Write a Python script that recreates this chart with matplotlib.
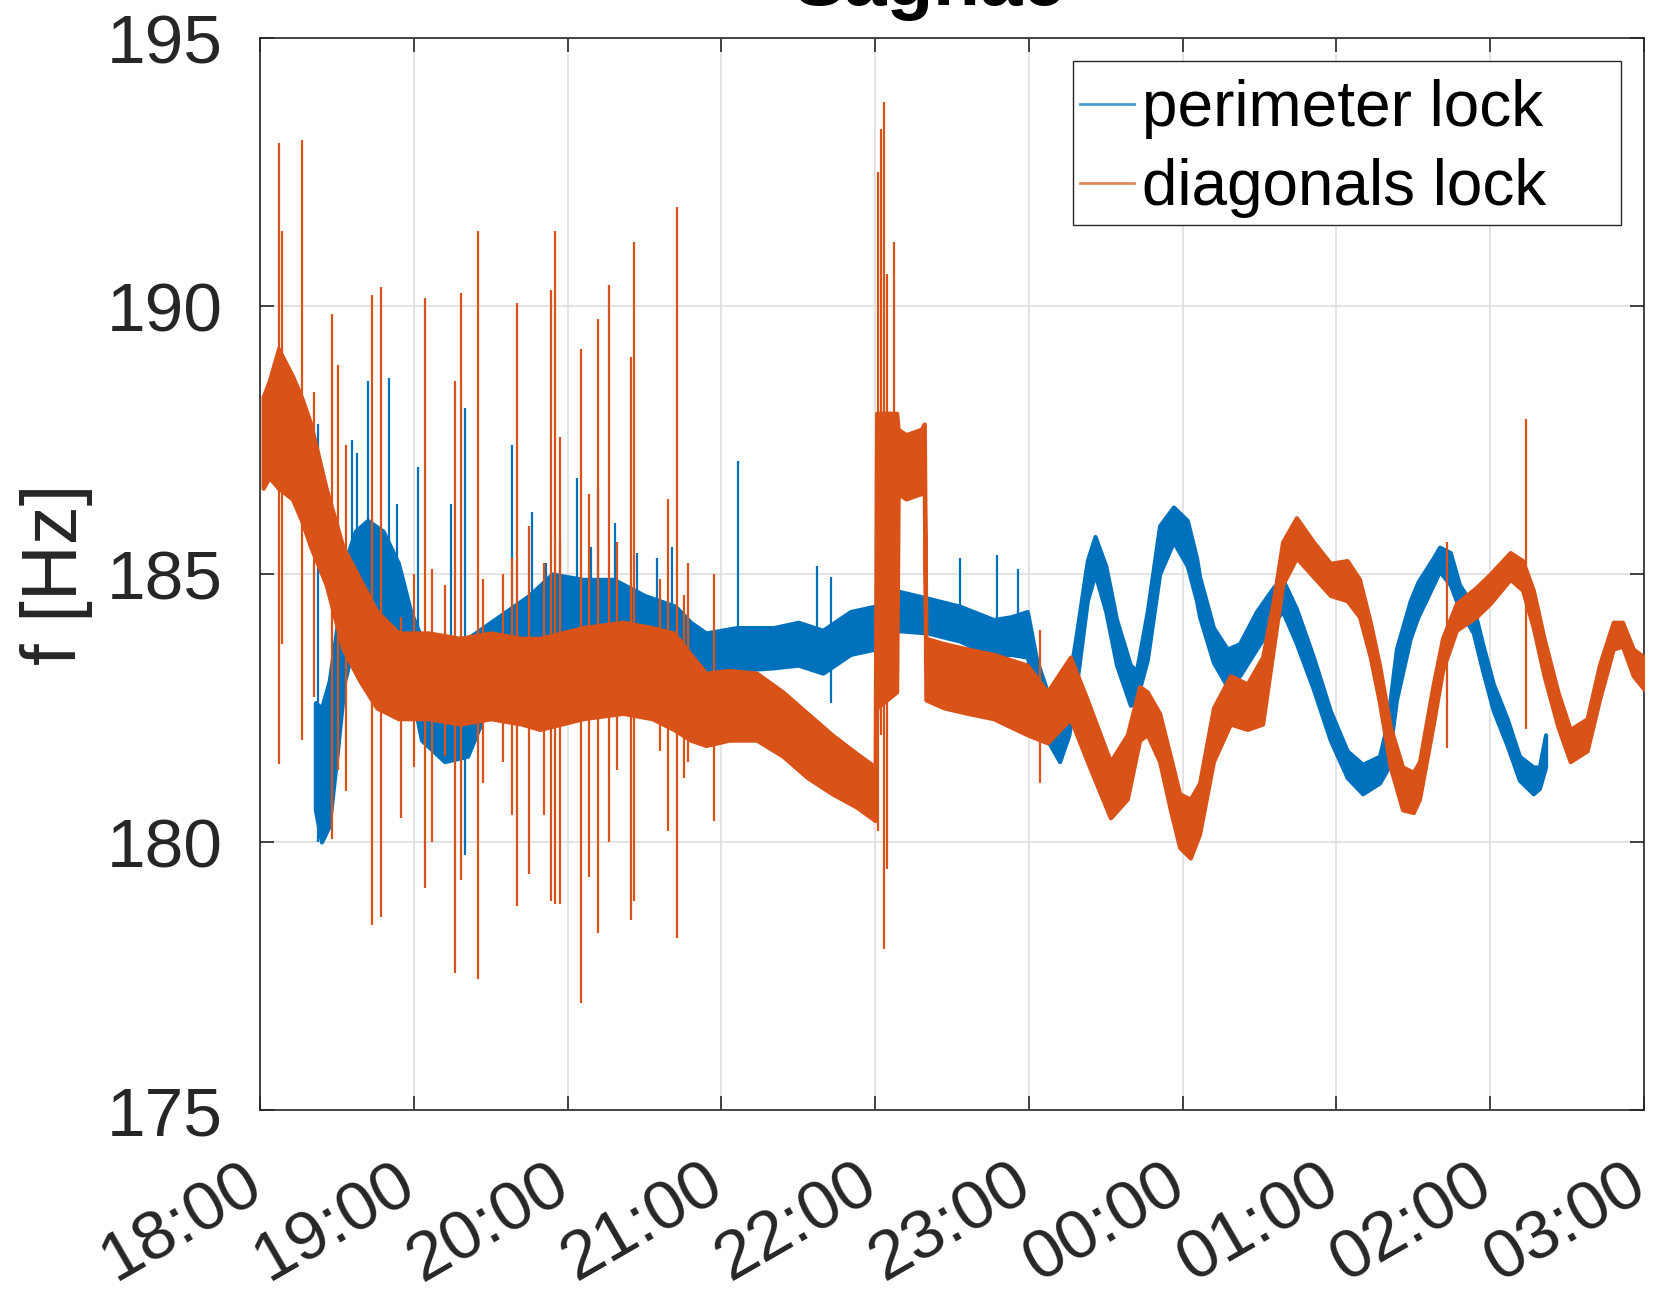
import matplotlib
matplotlib.use("Agg")
import matplotlib.pyplot as plt
import matplotlib.transforms as mtransforms
from matplotlib.lines import Line2D
from matplotlib.patches import Rectangle

plt.rcParams["font.family"] = ["Liberation Sans", "DejaVu Sans"]

# ------------------------------------------------------------------ data
# time axis: hours after 18:00
hour_labels = ["18:00", "19:00", "20:00", "21:00", "22:00",
               "23:00", "00:00", "01:00", "02:00", "03:00"]

# perimeter lock: noise band (lower / upper edge)
peri_t = [0.36, 0.40, 0.45, 0.50, 0.55, 0.62, 0.70, 0.80, 0.90, 0.98,
          1.05, 1.20, 1.35, 1.45, 1.60, 1.75, 1.90, 2.10, 2.30, 2.50,
          2.70, 2.80, 2.90, 3.10, 3.34, 3.50, 3.66, 3.84, 4.00, 4.12,
          4.34, 4.55, 4.77, 4.88, 4.99, 5.05, 5.12, 5.20, 5.26, 5.31,
          5.38, 5.43, 5.50, 5.57, 5.66, 5.70, 5.77, 5.85, 5.94, 6.03,
          6.09, 6.11, 6.20, 6.29, 6.37, 6.48, 6.59, 6.65, 6.74, 6.85,
          6.96, 7.07, 7.17, 7.28, 7.33, 7.39, 7.48, 7.53, 7.63, 7.67,
          7.74, 7.80, 7.89, 7.95, 8.02, 8.11, 8.19, 8.28, 8.32, 8.36]
peri_lo = [180.6, 180.0, 180.3, 181.6, 183.0, 183.8, 184.0, 183.8, 183.4, 182.9,
           181.9, 181.5, 181.6, 182.3, 182.6, 182.8, 183.1, 183.2, 183.1, 183.0,
           183.0, 183.1, 183.15, 183.2, 183.25, 183.3, 183.15, 183.5, 183.6, 183.95,
           183.9, 183.75, 183.45, 183.5, 183.45, 182.7, 181.9, 181.5, 182.0, 182.95,
           184.5, 185.0, 184.3, 183.3, 182.55, 182.65, 183.4, 185.0, 185.6, 185.15,
           184.5, 184.2, 183.35, 182.9, 183.1, 183.6, 184.1, 184.3, 183.7, 182.85,
           181.9, 181.2, 180.9, 181.1, 181.35, 182.65, 183.8, 184.2, 184.8, 185.05,
           184.8, 184.35, 183.9, 183.2, 182.45, 181.8, 181.15, 180.9, 181.0, 181.4]
peri_hi = [182.6, 182.5, 183.0, 184.0, 185.2, 185.8, 186.0, 185.8, 185.2, 184.3,
           183.8, 183.8, 183.8, 184.0, 184.3, 184.6, 185.0, 184.9, 184.9, 184.6,
           184.4, 184.1, 183.9, 184.0, 184.0, 184.1, 183.95, 184.3, 184.4, 184.7,
           184.55, 184.4, 184.15, 184.2, 184.3, 183.4, 182.8, 182.35, 183.0, 183.9,
           185.25, 185.7, 185.15, 184.15, 183.3, 183.2, 184.3, 185.9, 186.25, 186.0,
           185.3, 184.95, 184.0, 183.6, 183.7, 184.3, 184.75, 184.9, 184.35, 183.45,
           182.45, 181.7, 181.45, 181.6, 182.2, 183.6, 184.5, 184.85, 185.3, 185.5,
           185.4, 184.8, 184.4, 183.7, 182.95, 182.3, 181.6, 181.4, 181.4, 182.0]

# perimeter lock: single glitches (time, low, high)
peri_spike_t = [0.38, 0.60, 0.63, 0.70, 0.84, 0.89, 1.03, 1.24, 1.33, 1.64,
                1.77, 1.86, 2.06, 2.20, 2.31, 2.68, 3.11, 3.62, 3.71, 4.55,
                4.79, 4.93, 1.95, 2.15, 2.45, 2.58]
peri_spike_lo = [180.0, 184.0, 184.0, 184.5, 184.0, 184.0, 183.0, 183.0, 179.75, 183.0,
                 183.0, 183.0, 183.3, 183.3, 183.3, 183.2, 183.3, 183.3, 182.6, 183.8,
                 183.5, 183.5, 183.5, 183.5, 183.5, 183.5]
peri_spike_hi = [187.8, 187.5, 187.25, 188.6, 188.65, 186.3, 187.0, 186.3, 188.1, 187.4,
                 186.15, 185.2, 186.8, 186.6, 185.95, 185.5, 187.1, 185.15, 184.95, 185.3,
                 185.35, 185.1, 185.6, 185.5, 185.4, 185.3]

# diagonals lock: noise band
diag_t = [0.02, 0.06, 0.12, 0.21, 0.27, 0.33, 0.43, 0.54, 0.65, 0.76,
          0.90, 1.10, 1.30, 1.50, 1.70, 1.82, 2.10, 2.36, 2.55, 2.69,
          2.80, 2.90, 3.05, 3.23, 3.40, 3.56, 3.72, 3.88, 4.00, 4.01,
          4.14, 4.15, 4.20, 4.30, 4.32, 4.33, 4.45, 4.60, 4.77, 4.99,
          5.12, 5.27, 5.38, 5.53, 5.64, 5.72, 5.77, 5.85, 5.92, 5.98,
          6.05, 6.11, 6.20, 6.31, 6.42, 6.52, 6.59, 6.65, 6.74, 6.85,
          6.96, 7.07, 7.15, 7.22, 7.28, 7.35, 7.43, 7.50, 7.54, 7.63,
          7.69, 7.78, 7.91, 8.00, 8.13, 8.21, 8.28, 8.35, 8.44, 8.52,
          8.63, 8.71, 8.80, 8.86, 8.93, 9.00]
diag_lo = [186.6, 186.8, 186.6, 186.4, 186.0, 185.5, 184.8, 183.6, 183.0, 182.5,
           182.3, 182.3, 182.2, 182.3, 182.2, 182.1, 182.3, 182.4, 182.3, 182.1,
           181.9, 181.8, 181.9, 181.9, 181.6, 181.2, 180.9, 180.65, 180.4, 182.5,
           182.8, 186.5, 186.4, 186.5, 186.5, 182.65, 182.5, 182.4, 182.3, 182.0,
           181.85, 182.3, 181.5, 180.45, 180.8, 181.9, 182.0, 181.5, 180.6, 179.9,
           179.7, 180.15, 181.5, 182.2, 182.1, 182.2, 183.6, 184.8, 185.3, 184.95,
           184.6, 184.5, 184.2, 183.45, 182.6, 181.4, 180.6, 180.55, 180.8, 182.2,
           183.2, 183.95, 184.2, 184.45, 184.9, 184.7, 184.0, 183.1, 182.15, 181.5,
           181.7, 182.65, 183.6, 183.65, 183.1, 182.85]
diag_hi = [188.3, 188.6, 189.2, 188.7, 188.3, 187.8, 186.6, 185.5, 184.9, 184.3,
           183.9, 183.9, 183.8, 183.9, 183.8, 183.8, 184.0, 184.1, 184.0, 183.9,
           183.5, 183.15, 183.2, 183.15, 182.8, 182.4, 182.0, 181.65, 181.4, 188.0,
           188.0, 187.7, 187.6, 187.7, 187.8, 183.8, 183.7, 183.6, 183.5, 183.3,
           182.8, 183.45, 182.65, 181.5, 182.0, 182.9, 182.8, 182.4, 181.6, 180.9,
           180.8, 181.1, 182.5, 183.1, 182.95, 183.45, 184.5, 185.6, 186.05, 185.6,
           185.2, 185.25, 184.9, 184.1, 183.3, 182.15, 181.4, 181.3, 181.5, 182.95,
           183.8, 184.45, 184.75, 185.0, 185.4, 185.25, 184.7, 183.8, 182.8, 182.1,
           182.3, 183.3, 184.1, 184.1, 183.6, 183.45]

# diagonals lock: single glitches (time, low, high)
diag_spike_t = [0.125, 0.14, 0.27, 0.35, 0.47, 0.51, 0.56, 0.73, 0.79, 0.92,
                1.07, 1.12, 1.27, 1.31, 1.42, 1.67, 1.75, 1.89, 1.92, 1.95,
                2.09, 2.14, 2.20, 2.27, 2.41, 2.43, 2.65, 2.71, 2.78, 2.95,
                4.02, 4.04, 4.06, 4.08, 4.12, 5.07, 7.72, 8.23,
                1.00, 1.20, 1.45, 1.58, 1.64, 1.85, 2.32, 2.60, 2.76]
diag_spike_lo = [181.45, 183.7, 181.9, 182.7, 180.05, 181.35, 180.95, 178.45, 178.6, 180.45,
                 179.15, 180.0, 177.55, 179.3, 177.45, 178.8, 179.4, 178.9, 178.85, 178.85,
                 177.0, 179.35, 178.3, 180.0, 178.55, 178.9, 180.2, 178.2, 181.5, 180.4,
                 180.2, 182.0, 178.0, 179.5, 183.5, 181.1, 181.75, 182.1,
                 181.4, 181.6, 181.1, 181.5, 180.5, 180.5, 181.35, 181.7, 181.2]
diag_spike_hi = [193.05, 191.4, 193.1, 188.4, 189.85, 188.9, 187.4, 190.2, 190.35, 184.2,
                 190.15, 185.1, 188.6, 190.25, 191.4, 190.05, 185.9, 190.3, 191.4, 187.55,
                 189.2, 186.5, 189.75, 190.4, 189.05, 191.2, 186.4, 191.85, 185.2, 185.0,
                 192.5, 193.3, 193.8, 190.6, 191.2, 183.95, 185.6, 187.9,
                 185.0, 184.8, 184.9, 185.0, 185.3, 185.2, 185.6, 184.9, 184.6]

BLUE = "#0072BD"
ORANGE = "#D95319"
INK = "#262626"

# ---------------------------------------------------------------- figure
fig = plt.figure(figsize=(16.57, 12.93), dpi=100)
ax = fig.add_axes([260 / 1657, 1 - 1110 / 1293, 1384 / 1657, 1072 / 1293])

for t, lo, hi, st, slo, shi, col in (
        (peri_t, peri_lo, peri_hi, peri_spike_t, peri_spike_lo, peri_spike_hi, BLUE),
        (diag_t, diag_lo, diag_hi, diag_spike_t, diag_spike_lo, diag_spike_hi, ORANGE)):
    ax.fill_between(t, lo, hi, color=col, lw=3, edgecolor=col, zorder=3)
    ax.vlines(st, slo, shi, color=col, lw=1.6, zorder=3)

ax.set_xlim(0, 9)
ax.set_ylim(175, 195)
ax.set_xticks(range(len(hour_labels)))
ax.set_xticklabels(hour_labels, rotation=30, ha="right")
ax.set_yticks([175, 180, 185, 190, 195])

ax.grid(True, color="#dedede", lw=1.2)
ax.set_axisbelow(True)
for s in ax.spines.values():
    s.set_color(INK)
    s.set_linewidth(1.2)
ax.tick_params(direction="in", length=10, width=1.2, top=True, right=True,
               colors=INK, labelsize=50)
ax.tick_params(axis="x", pad=30)
ax.tick_params(axis="y", pad=27)
shift = mtransforms.ScaledTranslation(0.13, 0, fig.dpi_scale_trans)
for lab in ax.get_xticklabels():
    lab.set_transform(lab.get_transform() + shift)

ax.set_ylabel("f [Hz]", fontsize=56, color=INK, labelpad=10)
fig.text(0.561, 0.996, "Sagnac", fontsize=55, fontweight="bold",
         ha="center", va="baseline", color="black")

# legend box drawn by hand (MATLAB-style wide frame)
ax.add_patch(Rectangle((0.5874, 0.8256), 0.396, 0.1529, transform=ax.transAxes,
                       facecolor="white", edgecolor=INK, lw=1.0, zorder=5))
handles = [Line2D([], [], color=BLUE, lw=2, alpha=0.7),
           Line2D([], [], color=ORANGE, lw=2, alpha=0.7)]
leg = ax.legend(handles, ["perimeter lock", "diagonals lock"], loc="upper left",
                bbox_to_anchor=(0.5925, 0.9615), borderaxespad=0, borderpad=0,
                fontsize=46, handlelength=0.85, handletextpad=0.12,
                labelspacing=0.3, frameon=False)
leg.set_zorder(6)

fig.savefig("out.png", dpi=100)
